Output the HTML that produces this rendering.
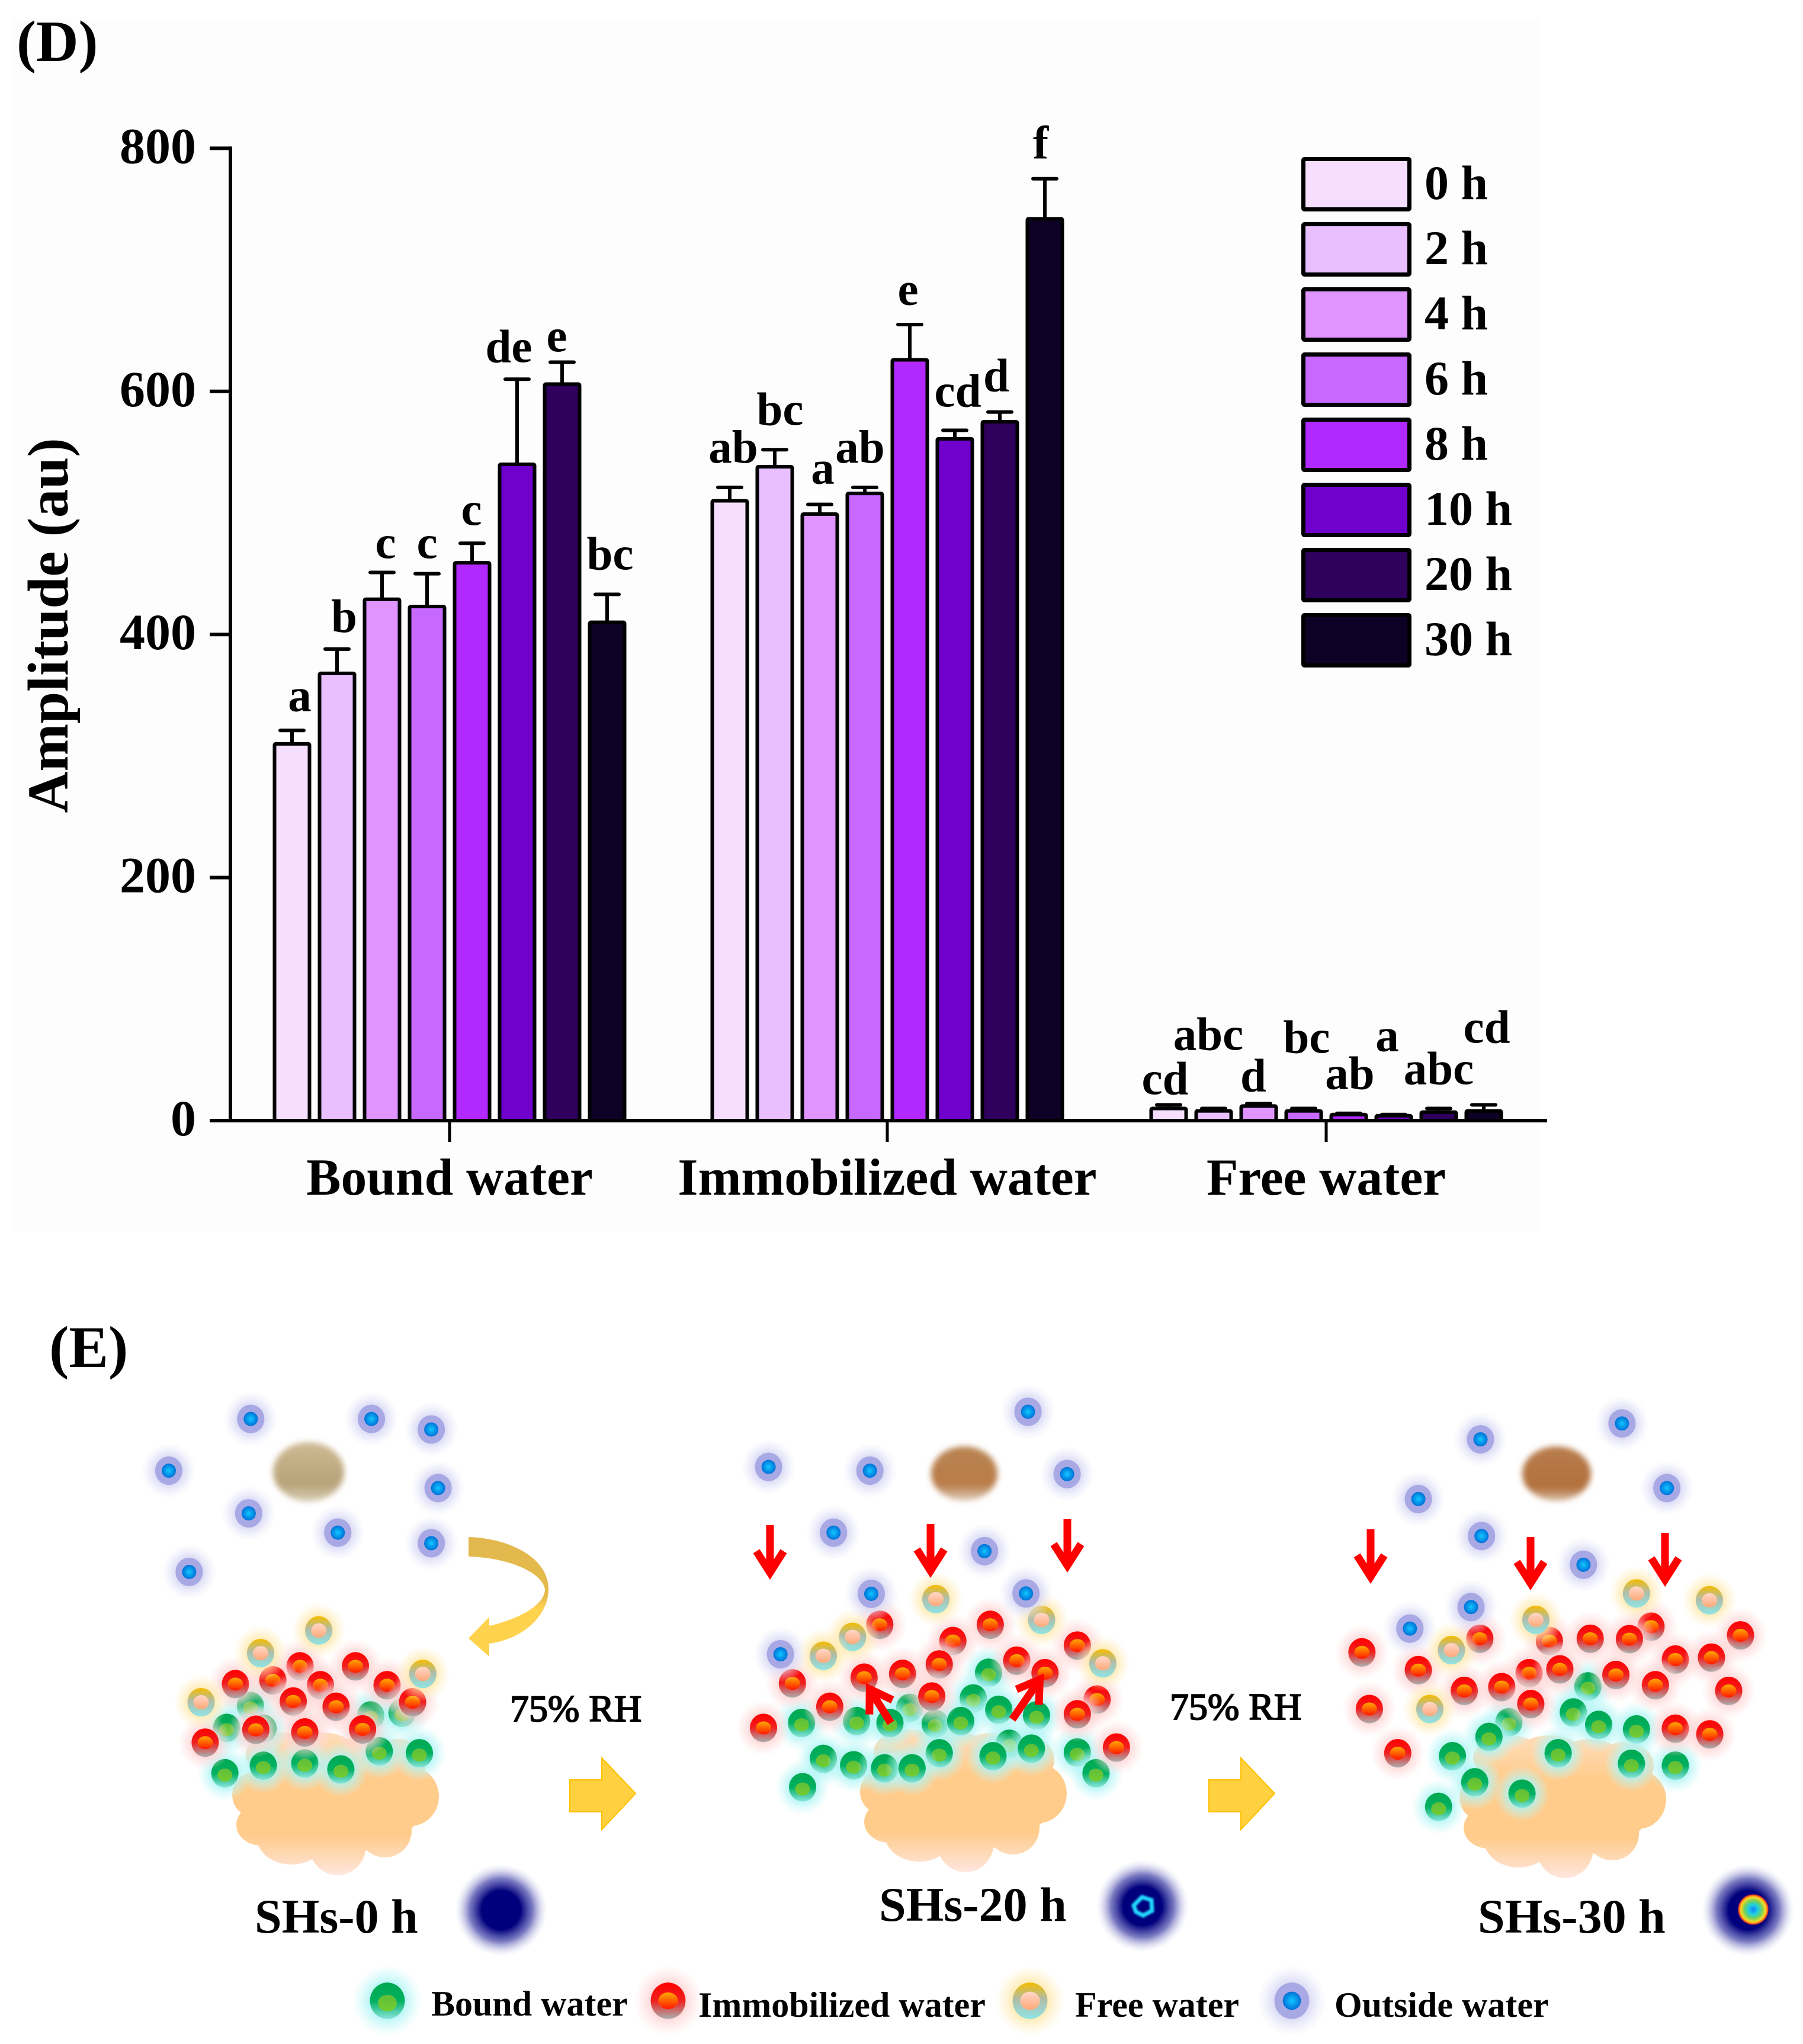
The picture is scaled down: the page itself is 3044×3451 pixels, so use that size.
<!DOCTYPE html>
<html lang="en">
<head>
<meta charset="utf-8">
<title>Amplitude of water populations and schematic of water migration</title>
<style>
html,body{margin:0;padding:0;background:#fff;}
svg{display:block;}
text{font-family:"Liberation Serif","DejaVu Serif",serif;fill:#000;}
.b{font-weight:bold;}
</style>
</head>
<body>
<svg id="root" xmlns="http://www.w3.org/2000/svg" width="3044" height="3451" viewBox="0 0 3044 3451">
<defs>
  <linearGradient id="g-bound" x1="0" y1="0" x2="0" y2="1"><stop offset="0" stop-color="#00A850"/><stop offset=".5" stop-color="#00B060"/><stop offset="1" stop-color="#88E4DC"/></linearGradient>
  <linearGradient id="g-bound-in" x1="0" y1="0" x2="0" y2="1"><stop offset="0" stop-color="#5FBE3A"/><stop offset="1" stop-color="#74CC30"/></linearGradient>
  <linearGradient id="g-immob" x1="0" y1="0" x2="0" y2="1"><stop offset="0" stop-color="#FF0000"/><stop offset=".5" stop-color="#F02020"/><stop offset="1" stop-color="#A8B0B0"/></linearGradient>
  <linearGradient id="g-immob-in" x1="0" y1="0" x2="0" y2="1"><stop offset="0" stop-color="#FFA800"/><stop offset="1" stop-color="#FF1800"/></linearGradient>
  <linearGradient id="g-free" x1="0" y1="0" x2="0" y2="1"><stop offset="0" stop-color="#F5BC00"/><stop offset=".45" stop-color="#B0BCA8"/><stop offset="1" stop-color="#90E4E4"/></linearGradient>
  <linearGradient id="g-free-in" x1="0" y1="0" x2="0" y2="1"><stop offset="0" stop-color="#FFD8C8"/><stop offset="1" stop-color="#FFA878"/></linearGradient>
  <radialGradient id="g-outside-in"><stop offset="0" stop-color="#10C8FF"/><stop offset="1" stop-color="#0070D8"/></radialGradient>
  <radialGradient id="glow-bound"><stop offset=".45" stop-color="#A8F4F4" stop-opacity=".9"/><stop offset="1" stop-color="#C8F8F8" stop-opacity="0"/></radialGradient>
  <radialGradient id="glow-immob"><stop offset=".45" stop-color="#FFD0D0" stop-opacity=".9"/><stop offset="1" stop-color="#FFE0E0" stop-opacity="0"/></radialGradient>
  <radialGradient id="glow-free"><stop offset=".45" stop-color="#FFE8A8" stop-opacity=".95"/><stop offset="1" stop-color="#FFF0C8" stop-opacity="0"/></radialGradient>
  <radialGradient id="glow-outside"><stop offset=".45" stop-color="#D4D4F4" stop-opacity=".95"/><stop offset="1" stop-color="#E8E8FA" stop-opacity="0"/></radialGradient>
  <radialGradient id="g-spot"><stop offset="0" stop-color="#00007C"/><stop offset=".42" stop-color="#00007C"/><stop offset=".68" stop-color="#4040A8" stop-opacity=".7"/><stop offset="1" stop-color="#CCCCEE" stop-opacity="0"/></radialGradient>
  <radialGradient id="g-core30"><stop offset="0" stop-color="#1080FF"/><stop offset=".3" stop-color="#20D0E0"/><stop offset=".55" stop-color="#70D060"/><stop offset=".78" stop-color="#FFD820"/><stop offset=".92" stop-color="#F04020"/><stop offset="1" stop-color="#00007C" stop-opacity="0"/></radialGradient>
  <linearGradient id="g-cloud" gradientUnits="userSpaceOnUse" x1="0" y1="0" x2="0" y2="242"><stop offset="0" stop-color="#FFDDBA"/><stop offset=".3" stop-color="#FFCC8C"/><stop offset=".72" stop-color="#FFCC8C"/><stop offset="1" stop-color="#FFE6E0"/></linearGradient>
  <linearGradient id="g-curve" x1="0" y1="0" x2="0" y2="1"><stop offset="0" stop-color="#E2B84E"/><stop offset=".5" stop-color="#E6BB4C"/><stop offset=".6" stop-color="#FFD24E"/><stop offset="1" stop-color="#FFD24E"/></linearGradient>
  <linearGradient id="g-tablet-0" x1="0" y1="0" x2="0" y2="1"><stop offset="0" stop-color="#CDB992"/><stop offset=".7" stop-color="#B8A378"/><stop offset="1" stop-color="#D8CDB4"/></linearGradient>
  <linearGradient id="g-tablet-20" x1="0" y1="0" x2="0" y2="1"><stop offset="0" stop-color="#B88452"/><stop offset=".7" stop-color="#B97C48"/><stop offset="1" stop-color="#E0D0C0"/></linearGradient>
  <linearGradient id="g-tablet-30" x1="0" y1="0" x2="0" y2="1"><stop offset="0" stop-color="#B87C4C"/><stop offset=".75" stop-color="#B2703C"/><stop offset="1" stop-color="#D8BDA4"/></linearGradient>
  <filter id="blur-tablet" x="-30%" y="-30%" width="160%" height="160%"><feGaussianBlur stdDeviation="5"/></filter>
  <filter id="blur-core" x="-30%" y="-30%" width="160%" height="160%"><feGaussianBlur stdDeviation="1.5"/></filter>
</defs>

<rect x="22" y="30" width="2576" height="2050" fill="#FEFDFE"/>
<text class="b" x="28" y="103" font-size="99">(D)</text>
<g id="chart"></g>
<text class="b" x="83" y="2308" font-size="100">(E)</text>
<g id="scheme"></g>
</svg>

<script>
// ---------- chart data ----------
const categories = ['Bound water', 'Immobilized water', 'Free water'];
const timeLabels = ['0 h', '2 h', '4 h', '6 h', '8 h', '10 h', '20 h', '30 h'];
const yTicks = [0, 200, 400, 600, 800];
const boundValues = [310, 368, 429, 423, 459, 540, 606, 410];
const boundErrorTops = [321, 388, 451, 450, 475, 610, 624, 433];
const immobilizedValues = [510, 538, 499, 516, 626, 561, 575, 742];
const immobilizedErrorTops = [521, 552, 507, 521, 655, 568, 583, 775];
const freeValues = [10, 8, 12, 8, 5, 4, 7, 8];
const freeErrorTops = [13, 10, 14, 10, 6, 5, 10, 13];
const boundLetters = ['a', 'b', 'c', 'c', 'c', 'de', 'e', 'bc'];
const immobilizedLetters = ['ab', 'bc', 'a', 'ab', 'e', 'cd', 'd', 'f'];
const freeLetters = ['cd', 'abc', 'd', 'bc', 'ab', 'a', 'abc', 'cd'];

// ---------- chart styling ----------
const seriesColors = ['#F6DEFF', '#E9BFFF', '#DF94FF', '#C768FF', '#B129FF', '#7000CC', '#2F005C', '#0D0225'];
const groupValues = [boundValues, immobilizedValues, freeValues];
const groupErrors = [boundErrorTops, immobilizedErrorTops, freeErrorTops];
const groupLetters = [boundLetters, immobilizedLetters, freeLetters];
// nudges that keep the significance letters clear of each other
const letterNudgeX = [[13,12,6,0,-1,-14,-9,5],[6,9,5,-8,-3,5,-6,-7],[-6,-9,-9,5,2,-11,0,5]];
const letterNudgeY = [[-3,1,6,4,-1,1,12,-12],[-12,-12,-5,-12,-3,-10,-5,-4],[12,-69,9,-64,-11,-77,-11,-75]];

const NS = 'http://www.w3.org/2000/svg';
function make(parent, tag, attrs, txt) {
  const el = document.createElementNS(NS, tag);
  for (const k in attrs) el.setAttribute(k, attrs[k]);
  if (txt !== undefined) el.textContent = txt;
  parent.appendChild(el);
  return el;
}
const chart = document.getElementById('chart');
const Y0 = 1892, Y_PER_UNIT = 2.052, AXIS_X = 389, AXIS_END = 2612;
const groupCenters = [759, 1498, 2239];
const BAR_STEP = 76, BAR_W = 59;
function yScale(v) { return Y0 - v * Y_PER_UNIT; }
function xScale(g, i) { return groupCenters[g] + (i - 3.5) * BAR_STEP; }

// bars, error bars and letters
groupValues.forEach(function (vals, g) {
  vals.forEach(function (v, i) {
    const x = xScale(g, i);
    const stem = make(chart, 'line', {x1: x, x2: x, y1: yScale(v), y2: yScale(groupErrors[g][i]), stroke: '#000', 'stroke-width': 6});
    
    
    const cap = make(chart, 'line', {x1: x - 20, x2: x + 20, y1: yScale(groupErrors[g][i]), y2: yScale(groupErrors[g][i]), stroke: '#000', 'stroke-width': 6, 'stroke-linecap': 'round'});
    
    
    const bar = make(chart, 'rect', {x: x - BAR_W / 2, y: yScale(v), width: BAR_W, height: Y0 - yScale(v), fill: seriesColors[i], stroke: '#000', 'stroke-width': 6, rx: 2});
    
    
    const letter = make(chart, 'text', {class: 'b', x: x + letterNudgeX[g][i], y: yScale(groupErrors[g][i]) - 30 + letterNudgeY[g][i], 'font-size': 79, 'text-anchor': 'middle'}, groupLetters[g][i]);
    
    
  });
});

// y axis
const yAxis = make(chart, 'line', {x1: AXIS_X, x2: AXIS_X, y1: yScale(800) - 3, y2: Y0, stroke: '#000', 'stroke-width': 6});


yTicks.forEach(function (t) {
  const tick = make(chart, 'line', {x1: 354, x2: AXIS_X, y1: yScale(t), y2: yScale(t), stroke: '#000', 'stroke-width': 6});
  
  
  const lab = make(chart, 'text', {class: 'b', x: 331, y: yScale(t) + 25, 'font-size': 86, 'text-anchor': 'end'}, String(t));
  
  
});
const yTitle = make(chart, 'text', {class: 'b', transform: 'translate(114,1056) rotate(-90)', 'font-size': 97, 'text-anchor': 'middle'}, 'Amplitude (au)');



// x axis
const xAxis = make(chart, 'line', {x1: AXIS_X, x2: AXIS_END, y1: Y0, y2: Y0, stroke: '#000', 'stroke-width': 6});


categories.forEach(function (c, g) {
  const tick = make(chart, 'line', {x1: groupCenters[g], x2: groupCenters[g], y1: Y0, y2: 1928, stroke: '#000', 'stroke-width': 5});
  
  
  const lab = make(chart, 'text', {class: 'b', x: groupCenters[g], y: 2017, 'font-size': 87.5, 'text-anchor': 'middle'}, c);
  
  
});

// legend
timeLabels.forEach(function (t, i) {
  const top = 265 + i * 110;
  const sw = make(chart, 'rect', {x: 2200.5, y: top + 3.5, width: 179, height: 85, rx: 2, fill: seriesColors[i], stroke: '#000', 'stroke-width': 7});
  
  
  const lab = make(chart, 'text', {class: 'b', x: 2405, y: top + 71, 'font-size': 82, 'xml:space': 'preserve'}, t);
  
  
});

// ---------- schematic ----------
const scheme = document.getElementById('scheme');
const cloudLobes = [[175,115,150,90],[37,105,37,38],[49,156,42,35],[100,178,58,45],[178,191,48,50],[258,166,45,45],[301,108,48,50],[83,38,60,38],[152,38,60,38],[221,51,60,45],[278,51,50,40]];
function drawCloud(x, y) {
  const g = make(scheme, 'g', {transform: 'translate(' + x + ',' + y + ')'});
  
  
  cloudLobes.forEach(function (l) {
    const lobe = make(g, 'ellipse', {cx: l[0], cy: l[1], rx: l[2], ry: l[3], fill: 'url(#g-cloud)'});
    
    
  });
}
function drawTablet(x, y, rx, ry, grad) {
  const t = make(scheme, 'ellipse', {cx: x, cy: y, rx: rx, ry: ry, fill: grad, filter: 'url(#blur-tablet)'});
  
  
}
const particleStyle = {
  bound:   {glow: 'url(#glow-bound)',   outer: 'url(#g-bound)',   inner: 'url(#g-bound-in)',   irx: 12.5, iry: 11, idy: 3},
  immob:   {glow: 'url(#glow-immob)',   outer: 'url(#g-immob)',   inner: 'url(#g-immob-in)',   irx: 13,   iry: 11, idy: 0},
  free:    {glow: 'url(#glow-free)',    outer: 'url(#g-free)',    inner: 'url(#g-free-in)',    irx: 13,   iry: 12, idy: 0},
  outside: {glow: 'url(#glow-outside)', outer: '#A8A8E4',         inner: 'url(#g-outside-in)', irx: 12,   iry: 12, idy: 0}
};
function drawParticle(kind, x, y, k) {
  const s = particleStyle[kind];
  const g = make(scheme, 'g', {transform: 'translate(' + x + ',' + y + ') scale(' + k + ')'});
  
  
  const glow = make(g, 'ellipse', {rx: 46, ry: 47, fill: s.glow});
  
  
  const outer = make(g, 'ellipse', {rx: 23, ry: 24, fill: s.outer});
  
  
  const inner = make(g, 'ellipse', {cy: s.idy, rx: s.irx, ry: s.iry, fill: s.inner});
  
  
}
function drawArrow(x1, y1, x2, y2) {
  const a = Math.atan2(y2 - y1, x2 - x1), ux = Math.cos(a), uy = Math.sin(a);
  const bx = x2 - ux * 8, by = y2 - uy * 8;
  const px = -uy, py = ux;
  const d = 'M' + x1 + ' ' + y1 + 'L' + bx + ' ' + by +
    'M' + (bx - ux * 36 + px * 23) + ' ' + (by - uy * 36 + py * 23) + 'L' + bx + ' ' + by + 'L' + (bx - ux * 36 - px * 23) + ' ' + (by - uy * 36 - py * 23);
  const p = make(scheme, 'path', {d: d, fill: 'none', stroke: '#FF0000', 'stroke-width': 13, 'stroke-linejoin': 'miter', 'stroke-miterlimit': 6});
  
  
}
function drawBlockArrow(x) {
  const p = make(scheme, 'path', {d: 'M' + x + ' 3005H' + (x + 54) + 'V2968L' + (x + 111) + ' 3028L' + (x + 54) + ' 3089V3059H' + x + 'Z', fill: '#FFD040', stroke: '#FFC000', 'stroke-width': 2});
  
  
}
function drawSpot(x, y) {
  const s = make(scheme, 'circle', {cx: x, cy: y, r: 78, fill: 'url(#g-spot)'});
  
  
}
function caption(txt, x, y) {
  const t = make(scheme, 'text', {class: 'b', x: x, y: y, 'font-size': 82, 'xml:space': 'preserve'}, txt);
  
  
}
function rhLabel(x, y) {
  const t = make(scheme, 'text', {x: x, y: y, 'font-size': 64, stroke: '#000', 'stroke-width': 2}, '75% RH');
  
  
}

// particle placements per stage, measured on the reference at the scale of each frame
const stages = [
  {ox: 200, oy: 2300, kx: 1.742, ky: 1.568,
   outside: [[389,150],[744,150],[920,178],[148,287],[940,333],[383,400],[645,451],[920,479],[208,555]],
   free: [[589,710],[418,770],[895,825],[243,900]],
   immob: [[534,805],[697,805],[344,852],[454,842],[594,855],[790,855],[514,898],[640,912],[865,900],[404,973],[255,1007],[548,980],[718,972]],
   bound: [[388,910],[742,935],[834,928],[318,968],[425,970],[767,1030],[885,1035],[426,1068],[548,1062],[654,1078],[313,1088]]},
  {ox: 1200, oy: 2300, kx: 1.742, ky: 1.568,
   outside: [[933,131],[170,277],[468,287],[1048,296],[361,451],[805,500],[472,613],[927,612],[205,773]],
   free: [[662,627],[417,727],[973,682],[331,777],[1153,797]],
   immob: [[497,695],[822,695],[712,738],[1078,750],[240,850],[451,835],[564,825],[672,800],[900,790],[983,823],[650,885],[350,912],[1136,893],[1078,932],[155,968],[1193,1020]],
   bound: [[817,822],[772,890],[585,915],[847,920],[267,955],[429,950],[527,955],[660,957],[735,950],[958,935],[878,1010],[943,1023],[672,1035],[830,1043],[331,1050],[420,1067],[511,1075],[592,1075],[1078,1033],[1133,1088],[270,1125]]},
  {ox: 2150, oy: 2300, kx: 1.754, ky: 1.568,
   outside: [[1032,162],[613,204],[1165,333],[429,362],[616,460],[918,536],[585,648],[404,705]],
   free: [[1075,612],[1291,630],[777,682],[527,762],[463,918]],
   immob: [[1118,700],[1383,723],[611,732],[817,738],[938,732],[1054,733],[262,768],[429,815],[1190,787],[1297,782],[757,823],[848,813],[1014,828],[1131,855],[565,870],[676,860],[1348,870],[762,905],[284,918],[1190,970],[1292,985],[368,1035]],
   bound: [[931,858],[697,953],[888,927],[963,960],[1075,972],[638,992],[530,1043],[843,1035],[1060,1063],[1190,1068],[596,1112],[736,1142],[489,1177]]}
];

drawCloud(392, 2925);
drawCloud(1452, 2920);
drawCloud(2464, 2930);
drawTablet(521, 2485, 60, 50, 'url(#g-tablet-0)');
drawTablet(1628, 2488, 56, 46, 'url(#g-tablet-20)');
drawTablet(2628, 2488, 58, 46, 'url(#g-tablet-30)');

stages.forEach(function (st) {
  ['bound', 'immob', 'free', 'outside'].forEach(function (kind) {
    st[kind].forEach(function (p) {
      drawParticle(kind, st.ox + p[0] / st.kx, st.oy + p[1] / st.ky, 1);
    });
  });
});

[[1300,2575,1300,2663],[1571,2573,1571,2660],[1802,2565,1802,2651],[1504,2909,1464,2845],[1709,2903,1760,2829],[2314,2582,2314,2670],[2584,2595,2584,2681],[2811,2588,2811,2675]].forEach(function (a) {
  drawArrow(a[0], a[1], a[2], a[3]);
});

const curve = make(scheme, 'path', {d: 'M791 2595C860 2597 926 2630 926 2683C926 2730 880 2768 826 2775L826 2797L791 2766L826 2730L826 2745C870 2735 920 2712 920 2683C915 2655 860 2630 791 2628Z', fill: 'url(#g-curve)'});



drawBlockArrow(962);
drawBlockArrow(2041);
rhLabel(861, 2906);
rhLabel(1975, 2903);

caption('SHs-0 h', 430, 3263);
caption('SHs-20 h', 1484, 3243);
caption('SHs-30 h', 2495, 3263);
drawSpot(846, 3225);
drawSpot(1929, 3218);
drawSpot(2951, 3225);

const core20 = make(scheme, 'polygon', {points: '1914,3217 1928,3203 1944,3208 1945,3226 1930,3234 1918,3228', fill: 'none', stroke: '#20D8FF', 'stroke-width': 7, filter: 'url(#blur-core)'});


const core30 = make(scheme, 'circle', {cx: 2960, cy: 3224, r: 27, fill: 'url(#g-core30)'});



// schematic key
const keyKinds = ['bound', 'immob', 'free', 'outside'];
const keyLabels = ['Bound water', 'Immobilized water', 'Free water', 'Outside water'];
const keyMarkerX = [654, 1128, 1739, 2181];
const keyTextX = [728, 1179, 1815, 2253];
keyKinds.forEach(function (kind, i) {
  drawParticle(kind, keyMarkerX[i], 3378, 1.28);
  const t = make(scheme, 'text', {class: 'b', x: keyTextX[i], y: i === 0 ? 3403 : 3405, 'font-size': 60}, keyLabels[i]);
  
  
});
</script>
</body>
</html>
